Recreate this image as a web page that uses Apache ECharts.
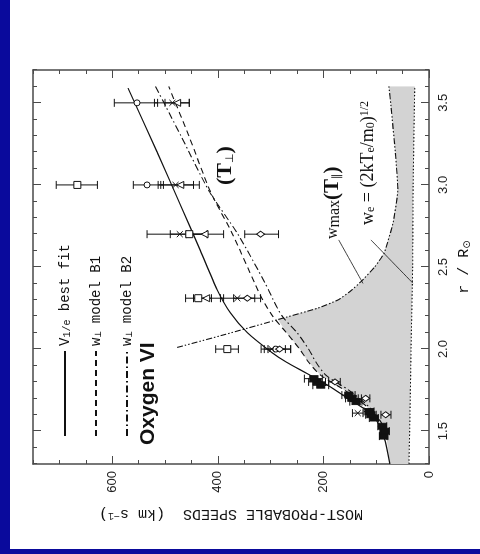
<!DOCTYPE html>
<html>
<head>
<meta charset="utf-8">
<script src="https://cdn.jsdelivr.net/npm/echarts@6.0.0/dist/echarts.min.js"></script>
<style>
  html, body { margin: 0; padding: 0; width: 480px; height: 554px; overflow: hidden; background: #0a0a9c; }
  #paper { position: absolute; left: 10px; top: 0; width: 470px; height: 549px; background: #fff; }
  /* the figure is printed on its side: draw it upright, then turn it a quarter left */
  #chart { position: absolute; left: -37px; top: 37px; width: 554px; height: 480px; transform: rotate(-90deg); }
</style>
</head>
<body>
<div id="paper"></div>
<div id="chart"></div>
<script>
// r / R_sun ticks and speed ticks (km/s)
const rTicks = [1.5, 2.0, 2.5, 3.0, 3.5];
const speedTicks = [0, 200, 400, 600];

// curves: [r, speed]
const bestFit = [[1.30, 74], [1.46, 85], [1.59, 104], [1.65, 129], [1.70, 154], [1.76, 182], [1.81, 208],
  [1.86, 236], [1.92, 270], [1.98, 298], [2.10, 344], [2.22, 376], [2.36, 401], [2.60, 433], [2.88, 471],
  [3.20, 515], [3.59, 570]];
const modelB1 = [[1.45, 80], [1.55, 92], [1.65, 118], [1.75, 160], [1.84, 205], [1.92, 228], [2.00, 245],
  [2.10, 270], [2.20, 296], [2.30, 315], [2.40, 330], [2.70, 372], [2.96, 414], [3.30, 455], [3.60, 493]];
const modelB2 = [[1.45, 80], [1.55, 90], [1.65, 114], [1.75, 152], [1.84, 195], [1.92, 214], [2.00, 228],
  [2.10, 250], [2.20, 278], [2.30, 295], [2.40, 310], [2.70, 362], [2.96, 416], [3.30, 470], [3.60, 518]];
const wMax = [[2.01, 477], [2.09, 385], [2.18, 286], [2.25, 210], [2.30, 172], [2.35, 150], [2.41, 129],
  [2.50, 103], [2.585, 85], [2.77, 68], [2.97, 59], [3.17, 63], [3.48, 72], [3.60, 76]];
const wElectron = [[1.30, 38], [1.60, 36], [2.00, 34], [2.50, 31], [3.00, 30], [3.60, 27]];

// observations: [r, speed, low, high]
const squareObs = [[2.00, 382, 361, 404], [2.31, 437, 412, 461], [2.70, 454, 420, 490], [3.00, 666, 628, 706]];
const circleObs = [[2.00, 290, 262, 312], [3.00, 534, 503, 560], [3.50, 553, 514, 596]];
const triangleObs = [[2.31, 422, 389, 446], [2.70, 425, 389, 460], [3.00, 471, 435, 508], [3.50, 477, 454, 500]];
const diamondObs = [[1.60, 82, 72, 91], [1.70, 120, 112, 128], [1.80, 178, 168, 190], [2.00, 283, 262, 305],
  [2.31, 344, 319, 370], [2.70, 319, 285, 349]];
const crossObs = [[1.61, 135, 125, 145], [2.00, 298, 272, 318], [2.31, 363, 330, 395], [2.70, 472, 420, 534],
  [3.00, 480, 446, 513], [3.50, 486, 454, 520]];
const filledObs = [[1.47, 86, 78, 94], [1.50, 84, 75, 93], [1.53, 88, 80, 97], [1.58, 104, 96, 113],
  [1.60, 110, 100, 120], [1.62, 113, 104, 123], [1.68, 138, 127, 150], [1.70, 146, 134, 158],
  [1.72, 152, 140, 165], [1.78, 205, 190, 220], [1.80, 212, 196, 228], [1.82, 218, 202, 236]];

// label leader lines
const leaderWmax = [[2.665, 171], [2.40, 125]];
const leaderWe = [[2.665, 110], [2.40, 30]];

// allowed region: under the model curve, then under w_max; above w_e
const grayEdge = [bestFit[0]]
  .concat(modelB1.filter(p => p[0] < 2.18))
  .concat(wMax.filter(p => p[0] >= 2.18));

const ink = '#111';
const frame = '#4a4a4a';
const serif = '"Liberation Serif", "DejaVu Serif", serif';
const mono = '"Liberation Mono", "DejaVu Sans Mono", monospace';

function errorBars(rows) {
  return {
    type: 'custom',
    data: rows,
    silent: true,
    z: 4,
    encode: { x: 0, y: [1, 2, 3] },
    renderItem: function (params, api) {
      const r = api.value(0);
      const lo = api.coord([r, api.value(2)]);
      const hi = api.coord([r, api.value(3)]);
      const c = 4;
      return {
        type: 'group',
        children: [
          { type: 'line', shape: { x1: lo[0], y1: lo[1], x2: hi[0], y2: hi[1] }, style: { stroke: ink, lineWidth: 1 } },
          { type: 'line', shape: { x1: lo[0] - c, y1: lo[1], x2: lo[0] + c, y2: lo[1] }, style: { stroke: ink, lineWidth: 1 } },
          { type: 'line', shape: { x1: hi[0] - c, y1: hi[1], x2: hi[0] + c, y2: hi[1] }, style: { stroke: ink, lineWidth: 1 } }
        ]
      };
    }
  };
}

function marks(rows, symbol, size, filled) {
  return {
    type: 'scatter',
    data: rows,
    encode: { x: 0, y: 1 },
    symbol: symbol,
    symbolSize: size,
    silent: true,
    z: 5,
    itemStyle: { color: filled ? ink : '#fff', borderColor: ink, borderWidth: 1, opacity: 1 }
  };
}

function curve(name, data, type, width) {
  return {
    name: name,
    type: 'line',
    data: data,
    symbol: 'none',
    showSymbol: false,
    smooth: 0.25,
    silent: true,
    z: 3,
    itemStyle: { color: ink },
    lineStyle: { color: ink, width: width || 1.1, type: type }
  };
}

function rAxis(position, major, withLabels) {
  return {
    type: 'value', position: position, min: 1.3, max: 3.7, interval: 0.1,
    axisLine: { show: !major, onZero: false, lineStyle: { color: frame, width: 1.5 } },
    axisTick: major
      ? { show: true, inside: true, length: 8, customValues: rTicks, lineStyle: { color: frame } }
      : { show: true, inside: true, length: 4, lineStyle: { color: frame } },
    axisLabel: withLabels
      ? { show: true, customValues: rTicks, margin: 8, formatter: v => v.toFixed(1),
          fontFamily: '"Liberation Sans", Arial, sans-serif', fontSize: 13, color: '#222' }
      : { show: false },
    splitLine: { show: false }
  };
}

function speedAxis(position, major, withLabels) {
  return {
    type: 'value', position: position, min: 0, max: 750, interval: 50,
    axisLine: { show: !major, onZero: false, lineStyle: { color: frame, width: 1.5 } },
    axisTick: major
      ? { show: true, inside: true, length: 8, customValues: speedTicks, lineStyle: { color: frame } }
      : { show: true, inside: true, length: 4, lineStyle: { color: frame } },
    axisLabel: withLabels
      ? { show: true, customValues: speedTicks, margin: 7,
          fontFamily: '"Liberation Sans", Arial, sans-serif', fontSize: 13, color: '#222' }
      : { show: false },
    splitLine: { show: false }
  };
}

const xMajor = rAxis('bottom', true, true);
xMajor.name = 'r / R{sub|⊙}';
xMajor.nameLocation = 'middle';
xMajor.nameGap = 28;
xMajor.nameTextStyle = { fontFamily: mono, fontSize: 15, color: ink,
  rich: { sub: { fontFamily: '"DejaVu Sans"', fontSize: 10, verticalAlign: 'bottom', color: ink } } };

const yMajor = speedAxis('left', true, true);
yMajor.name = 'MOST-PROBABLE SPEEDS  (km s{sup|−1})';
yMajor.nameLocation = 'middle';
yMajor.nameGap = 42;
yMajor.nameTextStyle = { fontFamily: mono, fontSize: 15, color: ink,
  rich: { sup: { fontFamily: mono, fontSize: 10, verticalAlign: 'top', color: ink } } };

const legendText = {
  'best fit': '{n|V}{s|1/e}{n| best fit}',
  'model B1': '{n|w}{s|⊥}{n| model B1}',
  'model B2': '{n|w}{s|⊥}{n| model B2}'
};

const chart = echarts.init(document.getElementById('chart'), null, { renderer: 'canvas' });
chart.setOption({
  animation: false,
  grid: { left: 90, right: 70, top: 33, bottom: 51 },
  xAxis: [rAxis('bottom', false, false), xMajor, rAxis('top', false, false), rAxis('top', true, false)],
  yAxis: [speedAxis('left', false, false), yMajor, speedAxis('right', false, false), speedAxis('right', true, false)],
  legend: {
    data: ['best fit', 'model B1', 'model B2'],
    orient: 'vertical',
    left: 112,
    top: 53,
    itemWidth: 85,
    itemHeight: 14,
    itemGap: 17,
    selectedMode: false,
    itemStyle: { color: 'rgba(0,0,0,0)', borderColor: 'rgba(0,0,0,0)', borderWidth: 0 },
    formatter: name => legendText[name],
    textStyle: {
      color: ink,
      rich: {
        n: { fontFamily: mono, fontSize: 14, color: ink },
        s: { fontFamily: mono, fontSize: 10, color: ink, verticalAlign: 'bottom' }
      }
    }
  },
  graphic: [
    { type: 'text', x: 109, y: 138, silent: true,
      style: { text: 'Oxygen VI', font: 'bold 21px "Liberation Sans", Arial, sans-serif', fill: ink } },
    { type: 'text', x: 369, y: 214, silent: true,
      style: { text: '{p|(T}{s|⊥}{p|)}', fill: ink,
        rich: { p: { font: 'bold 22px ' + serif, fill: ink }, s: { font: '11px "DejaVu Sans"', fill: ink, verticalAlign: 'bottom' } } } },
    { type: 'text', x: 315, y: 322, silent: true,
      style: { text: '{w|w}{m|max}{p|(T}{s|∥}{p|)}', fill: ink,
        rich: {
          w: { font: '16px ' + serif, fill: ink },
          m: { font: '16px ' + serif, fill: ink, verticalAlign: 'bottom' },
          p: { font: 'bold 21px ' + serif, fill: ink },
          s: { font: '11px "DejaVu Sans"', fill: ink, verticalAlign: 'bottom' }
        } } },
    { type: 'text', x: 329, y: 359, silent: true,
      style: { text: '{n|w}{s|e}{n| = (2kT}{s|e}{n|/m}{s|0}{n|)}{u|1/2}', fill: ink,
        rich: {
          n: { font: '18px ' + serif, fill: ink },
          s: { font: '12px ' + serif, fill: ink, verticalAlign: 'bottom' },
          u: { font: '12px ' + serif, fill: ink, verticalAlign: 'top' }
        } } }
  ],
  series: [
    {
      type: 'custom',
      silent: true,
      z: 1,
      data: [[1.3, 0]],
      encode: { x: 0, y: 1 },
      renderItem: function (params, api) {
        const top = grayEdge.map(p => api.coord(p));
        const bottom = wElectron.slice().reverse().map(p => api.coord(p));
        return { type: 'polygon', shape: { points: top.concat(bottom) }, style: { fill: '#d3d3d3' } };
      }
    },
    curve('best fit', bestFit, 'solid', 1.2),
    curve('model B1', modelB1, [6, 4], 1.1),
    curve('model B2', modelB2, [7, 3, 1.5, 3], 1.1),
    Object.assign(curve('wmax', wMax, [6, 2, 1.5, 2, 1.5, 2], 1.1), { smooth: 0.15 }),
    curve('we', wElectron, [1.5, 2], 1.1),
    curve('leader wmax', leaderWmax, 'solid', 0.8),
    curve('leader we', leaderWe, 'solid', 0.8),
    errorBars(filledObs),
    errorBars(squareObs),
    errorBars(circleObs),
    errorBars(triangleObs),
    errorBars(diamondObs),
    errorBars(crossObs),
    marks(filledObs, 'rect', [6, 8], true),
    marks(squareObs, 'rect', 7, false),
    marks(circleObs, 'circle', 6, false),
    marks(triangleObs, 'triangle', 7, false),
    marks(diamondObs, 'diamond', [6, 8], false),
    marks(crossObs, 'path://M0,0L10,10M10,0L0,10', 6, false)
  ]
});
</script>
</body>
</html>
